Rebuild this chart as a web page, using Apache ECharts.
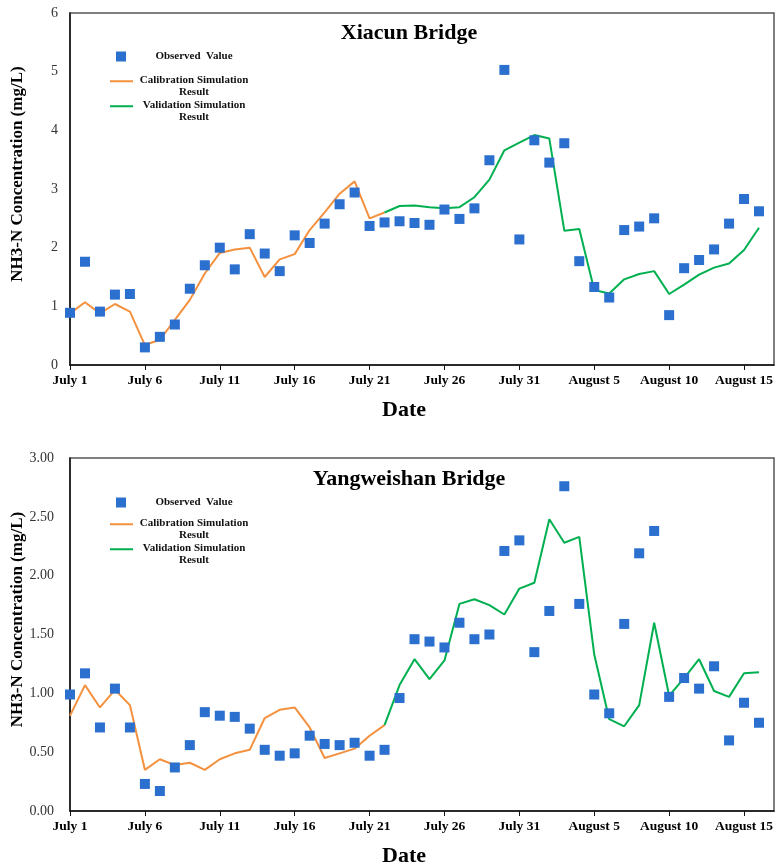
<!DOCTYPE html>
<html lang="en">

<head>
    <meta charset="UTF-8">
    <title>NH3-N Concentration</title>
    <script src="https://cdn.jsdelivr.net/npm/echarts@6/dist/echarts.min.js"></script>
</head>

<body style="margin:0">
    <div id="container" style="width: 783px; height: 865px;"></div>
    <script>
        // dates (x axis categories), July 1 - August 17
        var dates = ['July 1', 'July 2', 'July 3', 'July 4', 'July 5', 'July 6', 'July 7', 'July 8', 'July 9', 'July 10',
            'July 11', 'July 12', 'July 13', 'July 14', 'July 15', 'July 16', 'July 17', 'July 18', 'July 19', 'July 20',
            'July 21', 'July 22', 'July 23', 'July 24', 'July 25', 'July 26', 'July 27', 'July 28', 'July 29', 'July 30',
            'July 31', 'August 1', 'August 2', 'August 3', 'August 4', 'August 5', 'August 6', 'August 7', 'August 8',
            'August 9', 'August 10', 'August 11', 'August 12', 'August 13', 'August 14', 'August 15', 'August 16', 'August 17'];

        // Xiacun Bridge
        var xiacunObserved = [0.89, 1.76, 0.91, 1.20, 1.21, 0.30, 0.48, 0.69, 1.30, 1.70,
            2.00, 1.63, 2.23, 1.90, 1.60, 2.21, 2.08, 2.41, 2.74, 2.94,
            2.37, 2.43, 2.45, 2.42, 2.39, 2.65, 2.49, 2.67, 3.49, 5.03,
            2.14, 3.83, 3.45, 3.78, 1.77, 1.33, 1.15, 2.30, 2.36, 2.50,
            0.85, 1.65, 1.79, 1.97, 2.41, 2.83, 2.62];
        // July 1 - July 22
        var xiacunCalibration = [0.88, 1.07, 0.88, 1.04, 0.91, 0.34, 0.43, 0.77, 1.11, 1.56,
            1.91, 1.97, 2.00, 1.50, 1.80, 1.89, 2.30, 2.60, 2.92, 3.13,
            2.50, 2.60];
        // July 22 - August 16
        var xiacunValidation = [2.60, 2.71, 2.72, 2.69, 2.67, 2.69, 2.86, 3.16, 3.66, 3.79,
            3.92, 3.86, 2.29, 2.32, 1.28, 1.22, 1.46, 1.55, 1.60, 1.21,
            1.37, 1.54, 1.66, 1.73, 1.96, 2.34];

        // Yangweishan Bridge
        var yangObserved = [0.99, 1.17, 0.71, 1.04, 0.71, 0.23, 0.17, 0.37, 0.56, 0.84,
            0.81, 0.80, 0.70, 0.52, 0.47, 0.49, 0.64, 0.57, 0.56, 0.58,
            0.47, 0.52, 0.96, 1.46, 1.44, 1.39, 1.60, 1.46, 1.50, 2.21,
            2.30, 1.35, 1.70, 2.76, 1.76, 0.99, 0.83, 1.59, 2.19, 2.38,
            0.97, 1.13, 1.04, 1.23, 0.60, 0.92, 0.75];
        var yangCalibration = [0.81, 1.07, 0.88, 1.03, 0.90, 0.35, 0.44, 0.39, 0.41, 0.35,
            0.44, 0.49, 0.52, 0.79, 0.86, 0.88, 0.71, 0.45, 0.49, 0.53,
            0.64, 0.73];
        var yangValidation = [0.73, 1.07, 1.29, 1.12, 1.28, 1.76, 1.80, 1.75, 1.67, 1.89,
            1.94, 2.48, 2.28, 2.33, 1.33, 0.78, 0.72, 0.90, 1.60, 0.98,
            1.13, 1.29, 1.02, 0.97, 1.17, 1.18];

        var validationStart = 21;

        var serif = '"Liberation Serif", "Times New Roman", serif';
        var blue = '#2B6FCF', orange = '#F4913F', green = '#00B050';
        var NAME_OBS = 'Observed  Value';
        var NAME_CAL = 'Calibration Simulation\nResult';
        var NAME_VAL = 'Validation Simulation\nResult';
        // short bar at the top of the icon box, so it sits next to the first text line
        var LINE_ICON = 'path://M0,0H23V2H0ZM0,12L0.01,12Z';

        function pad(arr) {
            var out = [];
            for (var i = 0; i < validationStart; i++) out.push('-');
            return out.concat(arr);
        }

        // one legend per entry so each can be placed like the original
        function legendItem(name, icon, left, top, iconW, iconH, textW) {
            return {
                data: [{ name: name, icon: icon }],
                orient: 'vertical',
                left: left,
                top: top,
                padding: 0,
                itemWidth: iconW,
                itemHeight: iconH,
                itemGap: 0,
                formatter: function (n) {
                    return n.split('\n').map(function (s) { return '{c|' + s + '}'; }).join('\n');
                },
                textStyle: {
                    rich: {
                        c: {
                            width: textW,
                            align: 'center',
                            fontFamily: serif,
                            fontWeight: 'bold',
                            fontSize: 11,
                            lineHeight: 11.5,
                            color: '#111'
                        }
                    }
                }
            };
        }

        function xAxis(idx) {
            return {
                type: 'category',
                gridIndex: idx,
                data: dates,
                boundaryGap: false,
                name: 'Date',
                nameLocation: 'middle',
                nameGap: 34,
                nameTextStyle: { fontFamily: serif, fontWeight: 'bold', fontSize: 22, color: '#000', padding: [0, 36, 0, 0] },
                axisLine: { lineStyle: { color: '#111', width: 1.5 } },
                axisTick: { interval: 4, length: 5, lineStyle: { color: '#111' } },
                axisLabel: { interval: 4, margin: 9, fontFamily: serif, fontWeight: 'bold', fontSize: 13.5, color: '#000' },
                splitLine: { show: false }
            };
        }

        function yAxis(idx, max, interval, digits) {
            return {
                type: 'value',
                gridIndex: idx,
                min: 0,
                max: max,
                interval: interval,
                name: 'NH3-N Concentration (mg/L)',
                nameLocation: 'middle',
                nameGap: 44,
                nameMoveOverlap: false,
                nameTextStyle: { fontFamily: serif, fontWeight: 'bold', fontSize: 17, color: '#000', padding: [0, 0, 0, 30] },
                axisLine: { show: true, lineStyle: { color: '#111', width: 1.5 } },
                axisTick: { show: false },
                axisLabel: {
                    margin: digits ? 16 : 12,
                    fontFamily: serif, fontSize: 14, color: '#333',
                    formatter: function (v) { return v.toFixed(digits); }
                },
                splitLine: { show: false }
            };
        }

        function seriesFor(idx, obs, cal, val) {
            return [{
                name: NAME_CAL,
                type: 'line',
                xAxisIndex: idx, yAxisIndex: idx,
                data: cal,
                symbol: 'none',
                lineStyle: { color: orange, width: 2 },
                itemStyle: { color: orange },
                z: 2
            }, {
                name: NAME_VAL,
                type: 'line',
                xAxisIndex: idx, yAxisIndex: idx,
                data: pad(val),
                symbol: 'none',
                lineStyle: { color: green, width: 2 },
                itemStyle: { color: green },
                z: 3
            }, {
                name: NAME_OBS,
                type: 'scatter',
                xAxisIndex: idx, yAxisIndex: idx,
                data: obs,
                symbol: 'rect',
                symbolSize: 10,
                itemStyle: { color: blue, opacity: 1 },
                z: 4
            }];
        }

        var myCharts = echarts.init(document.querySelector('#container'));
        myCharts.setOption({
            backgroundColor: '#fff',
            animation: false,
            title: [{
                text: 'Xiacun Bridge',
                left: 404, top: 17, textAlign: 'center',
                textStyle: { fontFamily: serif, fontWeight: 'bold', fontSize: 22, color: '#000' }
            }, {
                text: 'Yangweishan Bridge',
                left: 404, top: 463, textAlign: 'center',
                textStyle: { fontFamily: serif, fontWeight: 'bold', fontSize: 22, color: '#000' }
            }],
            legend: [
                legendItem(NAME_OBS, 'rect', 116, 51, 10, 10, 126),
                legendItem(NAME_CAL, LINE_ICON, 110, 75, 23, 12, 112),
                legendItem(NAME_VAL, LINE_ICON, 110, 100, 23, 12, 112),
                legendItem(NAME_OBS, 'rect', 116, 497, 10, 10, 126),
                legendItem(NAME_CAL, LINE_ICON, 110, 518, 23, 12, 112),
                legendItem(NAME_VAL, LINE_ICON, 110, 543, 23, 12, 112)
            ],
            grid: [
                { left: 70, right: 9, top: 13, height: 352, outerBoundsMode: 'none', show: true, borderColor: '#555', borderWidth: 1.5 },
                { left: 70, right: 9, top: 458, height: 353, outerBoundsMode: 'none', show: true, borderColor: '#555', borderWidth: 1.5 }
            ],
            xAxis: [xAxis(0), xAxis(1)],
            yAxis: [yAxis(0, 6, 1, 0), yAxis(1, 3, 0.5, 2)],
            series: seriesFor(0, xiacunObserved, xiacunCalibration, xiacunValidation)
                .concat(seriesFor(1, yangObserved, yangCalibration, yangValidation))
        });
    </script>
</body>

</html>
